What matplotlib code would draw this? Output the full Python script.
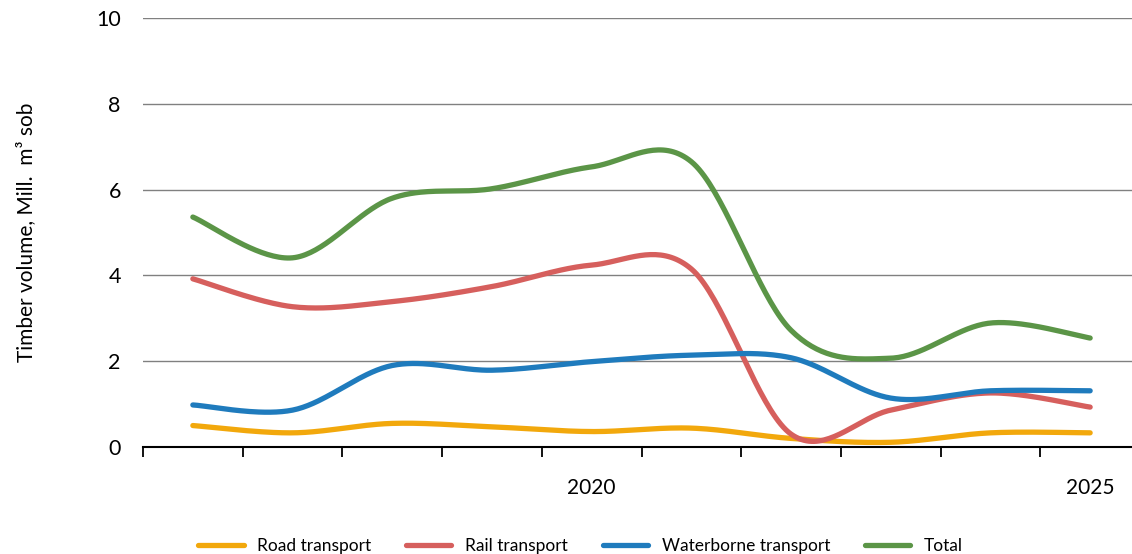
import matplotlib
matplotlib.use("Agg")
import matplotlib.pyplot as plt
import numpy as np

plt.rcParams['font.family'] = ['Lato', 'DejaVu Sans']

years = [2016, 2017, 2018, 2019, 2020, 2021, 2022, 2023, 2024, 2025]
year_labels = ["", "", "", "", "2020", "", "", "", "", "2025"]
road = [0.50, 0.33, 0.55, 0.47, 0.36, 0.44, 0.20, 0.11, 0.33, 0.33]
rail = [3.92, 3.27, 3.39, 3.74, 4.24, 4.15, 0.30, 0.86, 1.26, 0.93]
water = [0.98, 0.86, 1.90, 1.79, 1.99, 2.14, 2.08, 1.14, 1.31, 1.31]
total = [5.36, 4.41, 5.80, 6.02, 6.53, 6.65, 2.72, 2.07, 2.89, 2.54]

series = [
    ("Road transport", road, "#f2a80c"),
    ("Rail transport", rail, "#d65f5d"),
    ("Waterborne transport", water, "#1f7bbd"),
    ("Total", total, "#5b9547"),
]


def smooth(x, y, n=40):
    # excel style smoothed line: catmull-rom through bezier segments
    x = np.asarray(x, float)
    y = np.asarray(y, float)
    px = np.concatenate([[x[0]], x, [x[-1]]])
    py = np.concatenate([[y[0]], y, [y[-1]]])
    xs, ys = [], []
    t = np.linspace(0, 1, n)
    for i in range(1, len(px) - 2):
        p0 = np.array([px[i], py[i]])
        p3 = np.array([px[i + 1], py[i + 1]])
        c1 = p0 + (np.array([px[i + 1], py[i + 1]]) - np.array([px[i - 1], py[i - 1]])) / 6
        c2 = p3 - (np.array([px[i + 2], py[i + 2]]) - np.array([px[i], py[i]])) / 6
        b = ((1 - t) ** 3)[:, None] * p0 + (3 * (1 - t) ** 2 * t)[:, None] * c1 \
            + (3 * (1 - t) * t ** 2)[:, None] * c2 + (t ** 3)[:, None] * p3
        xs.extend(b[:, 0])
        ys.extend(b[:, 1])
    return xs, ys


fig = plt.figure(figsize=(11.32, 5.54), dpi=100)
ax = fig.add_axes([143 / 1132, 107 / 554, 997 / 1132, 429 / 554])

idx = np.arange(len(years))
for name, vals, col in series:
    sx, sy = smooth(idx, vals)
    ax.plot(sx, sy, color=col, lw=3.8, solid_capstyle='round', label=name, zorder=3)

ax.set_xlim(-0.5, 9.5)
ax.set_ylim(0, 10)
ax.set_yticks([0, 2, 4, 6, 8, 10])
for v in [2, 4, 6, 8, 10]:
    ax.axhline(v, color="#808080", lw=1.0, zorder=1)

ax.set_xticks(idx)
ax.set_xticklabels(year_labels, fontsize=15)
ax.set_xticks(np.arange(-0.5, 9.0, 1.0), minor=True)
ax.tick_params(axis='x', which='major', length=0, pad=22)
ax.tick_params(axis='x', which='minor', length=7, width=1.3, direction='out', color='black')
ax.tick_params(axis='y', length=0, labelsize=15.5, pad=16)

for s in ['top', 'right', 'left']:
    ax.spines[s].set_visible(False)
ax.spines['bottom'].set_linewidth(1.5)
ax.spines['bottom'].set_color('black')

ax.set_ylabel("Timber volume, Mill.  m³ sob", fontsize=15, labelpad=43)

fig.legend(loc='lower center', bbox_to_anchor=(0.513, -0.028), ncol=4, frameon=False,
           fontsize=12.5, handlelength=2.6, handletextpad=0.8, columnspacing=2.0)

fig.savefig("out.png", dpi=100)
